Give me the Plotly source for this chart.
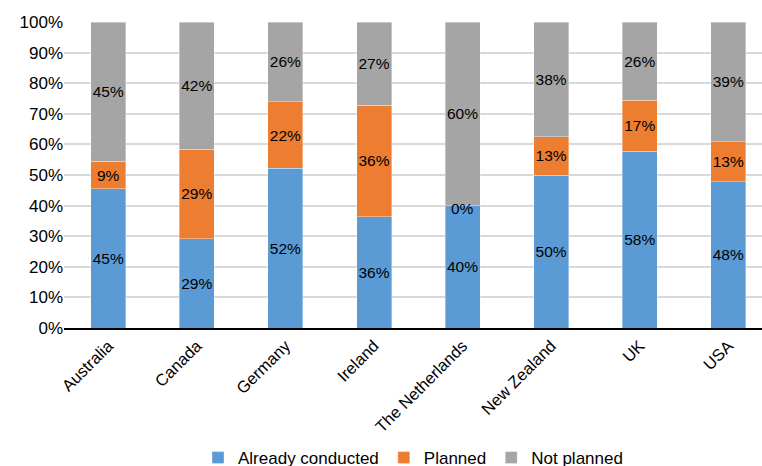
import plotly.graph_objects as go

countries = ["Australia", "Canada", "Germany", "Ireland", "The Netherlands",
             "New Zealand", "UK", "USA"]
already = [45.45, 29.2, 52.2, 36.4, 40.0, 50.0, 57.7, 47.8]
planned = [9.1, 29.2, 21.7, 36.4, 0.0, 12.5, 16.7, 13.0]
not_planned = [45.45, 41.6, 26.1, 27.2, 60.0, 37.5, 25.6, 39.2]

series = [
    ("Already conducted", already, "#5B9BD5"),
    ("Planned", planned, "#ED7D31"),
    ("Not planned", not_planned, "#A5A5A5"),
]

FONT = "Helvetica, 'Liberation Sans', Arial, sans-serif"
LABEL_FONT = dict(family=FONT, size=15.5, color="black")


def pct(v):
    return f"{int(v + 0.5)}%"


fig = go.Figure()
for name, vals, color in series:
    fig.add_trace(go.Bar(
        x=countries, y=vals, name=name,
        marker=dict(color=color, line=dict(color="rgba(255,255,255,0.6)", width=0.6)),
        width=0.395,
        text=[pct(v) if v > 0 else "" for v in vals],
        textposition="inside",
        insidetextanchor="middle",
        constraintext="none",
        textangle=0,
        textfont=LABEL_FONT,
        hoverinfo="skip",
    ))

# labels for zero-height segments, placed at the cumulative stack height
for i, c in enumerate(countries):
    base = 0.0
    for name, vals, color in series:
        if vals[i] == 0:
            fig.add_annotation(x=c, y=base, text=pct(vals[i]), showarrow=False,
                               yshift=-3, font=LABEL_FONT)
        base += vals[i]

fig.update_layout(
    width=762, height=476,
    barmode="stack",
    plot_bgcolor="white", paper_bgcolor="white",
    margin=dict(l=64, r=0, t=22, b=148, autoexpand=False),
    font=dict(family=FONT, size=17, color="black"),
    xaxis=dict(range=[-0.5, 7.38], tickangle=-45, showgrid=False,
               showline=True, linecolor="black", linewidth=1.5,
               ticks="", tickfont=dict(size=16.5), automargin=False),
    yaxis=dict(range=[0, 100], dtick=10, ticksuffix="%", showgrid=True,
               gridcolor="#D9D9D9", gridwidth=1.5, zeroline=False,
               showline=False, ticks="", tickfont=dict(size=17), automargin=False),
    legend=dict(orientation="h", yref="container", y=0, yanchor="bottom",
                x=0.5, xanchor="center", font=dict(size=17),
                traceorder="normal", itemwidth=30),
    showlegend=True,
)

fig.write_html("out.html", config={"displayModeBar": False},
               post_script="document.body.style.margin='0';document.body.style.overflow='hidden';")
